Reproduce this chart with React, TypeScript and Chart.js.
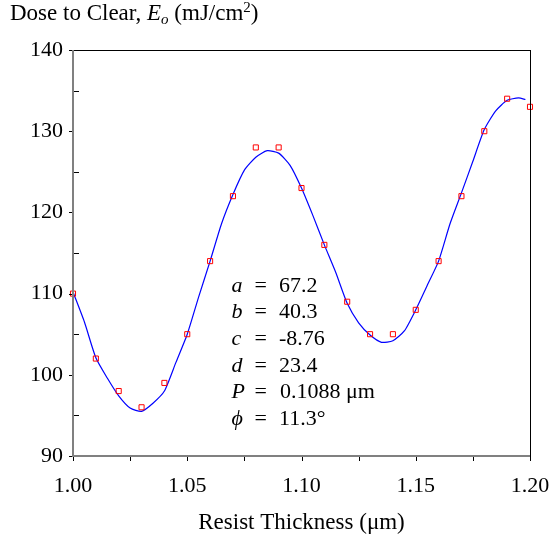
import React, { useEffect, useRef } from "react";
import { Chart, registerables } from "chart.js";

Chart.register(...registerables);

// Measured points (red squares)
const thickness = [1.0, 1.01, 1.02, 1.03, 1.04, 1.05, 1.06, 1.07, 1.08, 1.09, 1.1, 1.11, 1.12, 1.13, 1.14, 1.15, 1.16, 1.17, 1.18, 1.19, 1.2];
const doseMeasured = [110, 102, 98, 96, 99, 105, 114, 122, 128, 128, 123, 116, 109, 105, 105, 108, 114, 122, 130, 134, 133];

// Fitted curve (blue line)
const fitThickness = [
  1.0, 1.005, 1.01, 1.015, 1.02, 1.025, 1.03, 1.035, 1.04, 1.045, 1.05, 1.055, 1.06, 1.065, 1.07, 1.075, 1.08,
  1.085, 1.09, 1.095, 1.1, 1.105, 1.11, 1.115, 1.12, 1.125, 1.13, 1.135, 1.14, 1.145, 1.15, 1.155, 1.16, 1.165,
  1.17, 1.175, 1.18, 1.185, 1.19, 1.195, 1.198,
];
const fitDose = [
  110.2, 106.5, 102.1, 99.6, 97.4, 95.9, 95.5, 96.5, 98.0, 101.5, 105.0, 109.6, 114.0, 118.6, 122.2, 125.2, 126.8,
  127.6, 127.3, 125.8, 123.0, 119.6, 116.0, 112.6, 108.8, 106.4, 104.9, 104.0, 104.2, 105.4, 108.0, 111.0, 114.0, 118.6,
  122.4, 126.3, 130.2, 132.5, 133.8, 134.1, 133.9,
];

// Fit parameters
const paramNames = ["a", "b", "c", "d", "P", "\u03D5"];
const paramValues = ["67.2", "40.3", "-8.76", "23.4", "0.1088 \u03BCm", "11.3\u00B0"];

// Axis settings
const xMin = 1.0;
const xMax = 1.2;
const xStep = 0.025;
const yMin = 90;
const yMax = 140;
const yStep = 5;

const xTitle = "Resist Thickness (\u03BCm)";

const SERIF = '"Liberation Serif", "Times New Roman", serif';

const decorPlugin = {
  id: "decor",
  afterDraw(chart: any) {
    const { ctx, chartArea, scales } = chart;
    const { left, right, top, bottom } = chartArea;
    const x = scales.x;
    const y = scales.y;
    ctx.save();

    // top and right frame
    ctx.strokeStyle = "#000";
    ctx.lineWidth = 1;
    ctx.beginPath();
    ctx.moveTo(left, top + 0.5);
    ctx.lineTo(right + 1, top + 0.5);
    ctx.moveTo(right + 0.5, top);
    ctx.lineTo(right + 0.5, bottom);
    ctx.stroke();

    // y ticks: majors outward, minors inward
    ctx.beginPath();
    y.ticks.forEach((t: any) => {
      const py = Math.round(y.getPixelForValue(t.value)) + 0.5;
      const major = Math.round(t.value) % 10 === 0;
      if (major) {
        ctx.moveTo(left - 4, py);
        ctx.lineTo(left, py);
      } else {
        ctx.moveTo(left, py);
        ctx.lineTo(left + 6, py);
      }
    });
    // x ticks: downward
    x.ticks.forEach((t: any) => {
      const px = Math.round(x.getPixelForValue(t.value)) + 0.5;
      ctx.moveTo(px, bottom);
      ctx.lineTo(px, bottom + 5);
    });
    ctx.stroke();

    // gray axes
    ctx.strokeStyle = "#808080";
    ctx.lineWidth = 2;
    ctx.beginPath();
    ctx.moveTo(left, top);
    ctx.lineTo(left, bottom + 1);
    ctx.moveTo(left - 1, bottom);
    ctx.lineTo(right, bottom);
    ctx.stroke();

    // y-axis title at top left
    ctx.fillStyle = "#000";
    ctx.textBaseline = "alphabetic";
    ctx.textAlign = "left";
    let cx = 10;
    const by = 20;
    const reg = `23px ${SERIF}`;
    const ita = `italic 23px ${SERIF}`;
    const small = `15px ${SERIF}`;
    const smallIta = `italic 15px ${SERIF}`;
    const parts: [string, string, number][] = [
      ["Dose to Clear, ", reg, 0],
      ["E", ita, 0],
      ["o", smallIta, 4],
      [" (mJ/cm", reg, 0],
      ["2", small, -8],
      [")", reg, 0],
    ];
    parts.forEach(([txt, font, dy]) => {
      ctx.font = font;
      ctx.fillText(txt, cx, by + dy);
      cx += ctx.measureText(txt).width;
    });

    // fit parameters block
    const pReg = `22px ${SERIF}`;
    const pIta = `italic 22px ${SERIF}`;
    const baseY = 291.7;
    const lineGap = 26.6;
    paramNames.forEach((name, i) => {
      const yy = baseY + i * lineGap;
      ctx.font = pIta;
      ctx.fillText(name, 231.5, yy);
      ctx.font = pReg;
      ctx.fillText("=", 254.5, yy);
      ctx.fillText(paramValues[i], i === 4 ? 280 : 279, yy);
    });

    ctx.restore();
  },
};

export default function App() {
  const canvasRef = useRef<HTMLCanvasElement | null>(null);

  useEffect(() => {
    const canvas = canvasRef.current;
    if (!canvas) return;
    const chart = new Chart(canvas, {
      type: "scatter",
      data: {
        datasets: [
          {
            type: "scatter",
            data: thickness.map((t, i) => ({ x: t, y: doseMeasured[i] })),
            pointStyle: "rect",
            pointRadius: 3.6,
            pointBorderColor: "#ff0000",
            pointBackgroundColor: "rgba(255,255,255,0)",
            pointBorderWidth: 1,
            clip: false,
          } as any,
          {
            type: "line",
            data: fitThickness.map((t, i) => ({ x: t, y: fitDose[i] })),
            borderColor: "#0000ff",
            borderWidth: 1.2,
            pointRadius: 0,
            tension: 0.2,
            fill: false,
            clip: false,
          } as any,
        ],
      },
      options: {
        animation: false,
        responsive: true,
        maintainAspectRatio: false,
        layout: { padding: { left: 0, right: 20, top: 50, bottom: 0 } },
        plugins: {
          legend: { display: false },
          tooltip: { enabled: false },
          title: { display: false },
        },
        scales: {
          x: {
            type: "linear",
            min: xMin,
            max: xMax,
            grid: { display: false, drawTicks: false },
            border: { display: false },
            afterFit: (s: any) => {
              s.height = 81;
              s.paddingLeft = 0;
              s.paddingRight = 0;
            },
            ticks: {
              stepSize: xStep,
              autoSkip: false,
              maxRotation: 0,
              padding: 17,
              color: "#000",
              font: { family: SERIF, size: 22 },
              callback: (v: any) => {
                const n = Math.round(Number(v) * 1000);
                return n % 50 === 0 ? (n / 1000).toFixed(2) : "";
              },
            },
            title: {
              display: true,
              text: xTitle,
              color: "#000",
              font: { family: SERIF, size: 23 },
              padding: { top: 0, bottom: 0 },
            },
          },
          y: {
            type: "linear",
            min: yMin,
            max: yMax,
            grid: { display: false, drawTicks: false },
            border: { display: false },
            afterFit: (s: any) => {
              s.width = 73;
              s.paddingTop = 0;
              s.paddingBottom = 0;
            },
            ticks: {
              stepSize: yStep,
              autoSkip: false,
              padding: 10,
              color: "#000",
              font: { family: SERIF, size: 22 },
              callback: (v: any) => {
                const n = Math.round(Number(v));
                return n % 10 === 0 ? String(n) : "";
              },
            },
          },
        },
      },
      plugins: [decorPlugin],
    });
    return () => chart.destroy();
  }, []);

  return (
    <div style={{ position: "fixed", left: 0, top: 0, width: 550, height: 537, background: "#fff" }}>
      <canvas ref={canvasRef} />
    </div>
  );
}
